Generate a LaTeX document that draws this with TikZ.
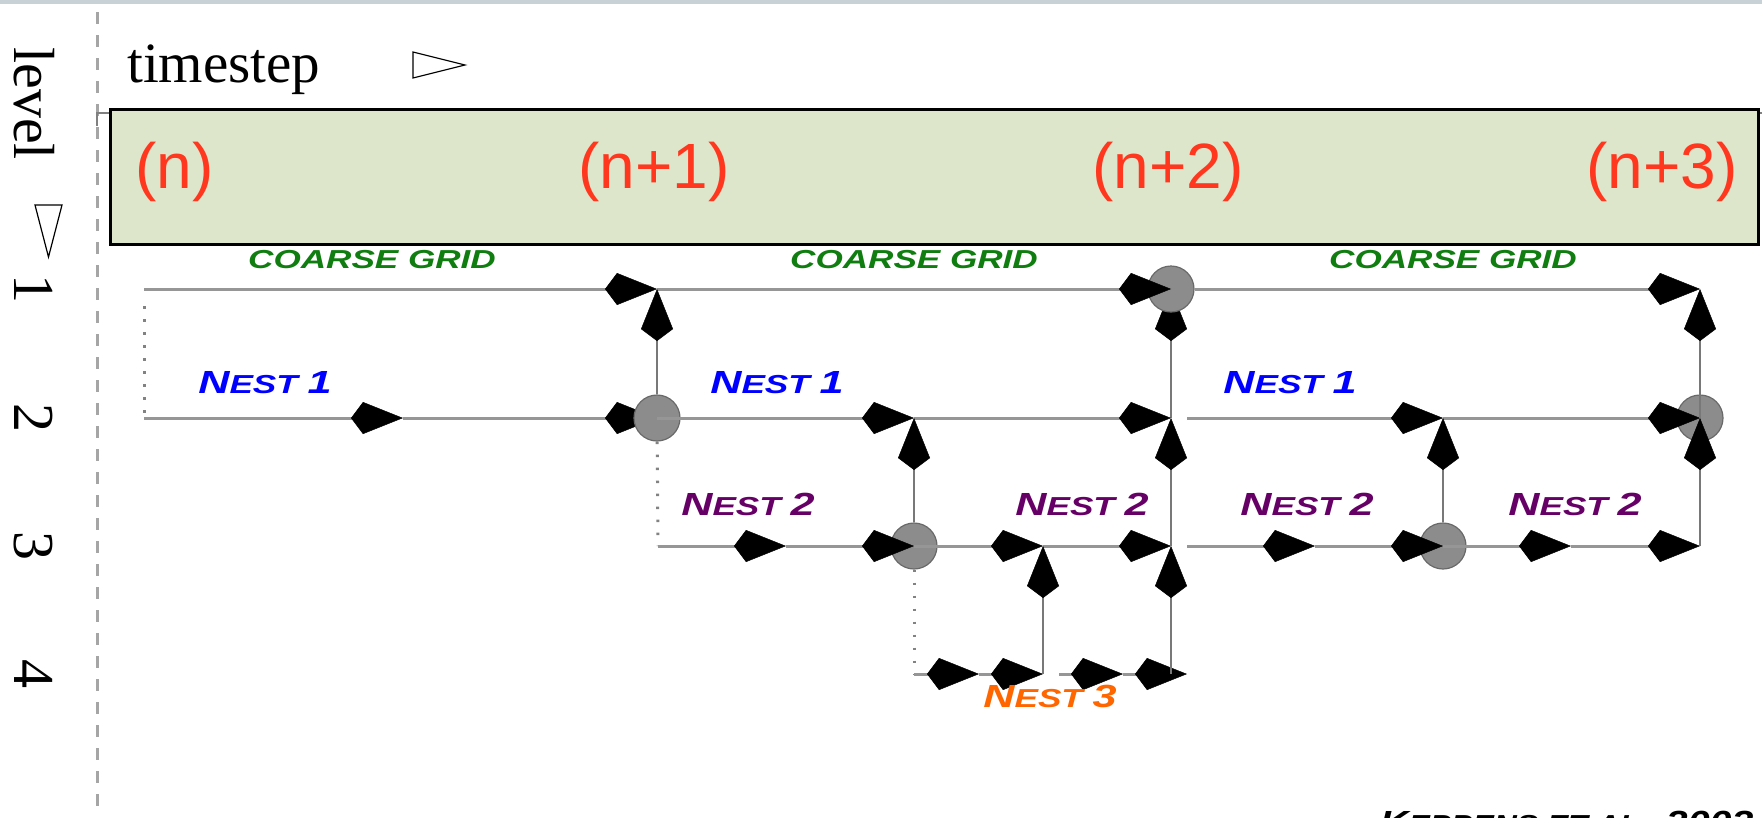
\documentclass[tikz,border=0pt]{standalone}
\usepackage{fontspec}
\usetikzlibrary{arrows.meta}
\newfontfamily\serifT{Liberation Serif}
\newfontfamily\sansA{Liberation Sans}
\newfontfamily\cpg[FakeStretch=1.35]{Liberation Sans}
\newcommand{\BigC}[1]{{\fontsize{32}{32}\selectfont #1}}
\definecolor{barcol}{RGB}{199,209,214}
\definecolor{boxfill}{RGB}{221,229,203}
\definecolor{redlab}{RGB}{255,55,30}
\definecolor{cgreen}{RGB}{16,125,16}
\definecolor{nblue}{RGB}{0,0,255}
\definecolor{npurple}{RGB}{102,0,102}
\definecolor{norange}{RGB}{255,102,0}
\definecolor{hline}{RGB}{150,150,150}
\definecolor{vline}{RGB}{120,120,120}
\definecolor{dotcol}{RGB}{130,130,130}
\definecolor{circfill}{RGB}{140,140,140}
\definecolor{circline}{RGB}{105,105,105}
\definecolor{dashcol}{RGB}{165,165,165}
\begin{document}
\begin{tikzpicture}[x=1pt,y=-1pt,
  hl/.style={line width=3pt, draw=hline},
  vl/.style={line width=2pt, draw=vline},
  ar/.style={-{Kite[length=52pt,width=32pt,inset=12pt,color=black,line width=0.5pt]}},
  dotl/.style={line width=3pt, draw=dotcol, dash pattern=on 2.5pt off 10.5pt},
  circ/.style={circle, minimum size=46pt, inner sep=0pt, fill=circfill, draw=circline, line width=1.2pt},
  lab/.style={inner sep=0pt, anchor=base, font=\cpg\bfseries\itshape\fontsize{26}{26}\selectfont},
  redl/.style={inner sep=0pt, anchor=base west, text=redlab, font=\sansA\fontsize{64}{64}\selectfont},
  axl/.style={inner sep=0pt, rotate=-90, anchor=base, font=\serifT\fontsize{58}{58}\selectfont},
  tri/.style={line width=1.2pt, draw=black, fill=white}
]
\useasboundingbox (0,0) rectangle (1762,817);
\clip (0,0) rectangle (1762,817);
% top bar and axis
\fill[barcol] (0,0) rectangle (1762,3.5);
\draw[line width=3pt, dashcol, dash pattern=on 12pt off 11pt] (97,12) -- (97,817);
\draw[line width=1.5pt, gray] (97,126) -- (97,113) -- (1762,113);
% header box
\node[draw=black, line width=3pt, fill=boxfill, anchor=north west, inner sep=0pt,
      minimum width=1648pt, minimum height=135pt] (box) at (109,108) {};
\node[redl] (tn)  at (135,188) {(n)};
\node[redl] (tn1) at (578,188) {(n+1)};
\node[redl] (tn2) at (1092,188) {(n+2)};
\node[redl] (tn3) at (1586,188) {(n+3)};
% axis labels
\node[inner sep=0pt, anchor=base west, font=\serifT\fontsize{57}{57}\selectfont] (ts) at (127,82) {timestep};
\draw[tri] (413,52) -- (413,78) -- (465,65) -- cycle;
\node[axl] (lv) at (14,103.5) {level};
\draw[tri] (35,205) -- (62,205) -- (48.5,257) -- cycle;
\node[axl] (l1) at (14,289) {1};
\node[axl] (l2) at (14,418) {2};
\node[axl] (l3) at (14,546) {3};
\node[axl] (l4) at (14,674) {4};
% grid points
\coordinate (c0) at (144,289); \coordinate (c1) at (657,289);
\coordinate (c2) at (1171,289); \coordinate (c3) at (1700,289);
\coordinate (a0) at (144,418); \coordinate (am) at (403,418);
\coordinate (a1) at (657,418); \coordinate (ab) at (914,418);
\coordinate (a2) at (1171,418); \coordinate (a2s) at (1187,418);
\coordinate (ad) at (1443,418); \coordinate (a3) at (1700,418);
\coordinate (b0) at (658,546); \coordinate (bm) at (786,546);
\coordinate (b1) at (914,546); \coordinate (bc) at (1043,546);
\coordinate (b2) at (1171,546); \coordinate (b2s) at (1187,546);
\coordinate (be) at (1315,546); \coordinate (bf) at (1443,546);
\coordinate (bg) at (1571,546); \coordinate (b3) at (1700,546);
\coordinate (d0) at (914,674); \coordinate (dm) at (979,674);
\coordinate (d1) at (1043,674); \coordinate (d1s) at (1059,674);
\coordinate (dn) at (1123,674); \coordinate (d2) at (1187,674);
\coordinate (v2) at (1171,674);
\coordinate (s0) at (144,306);
% connectors drawn below the circles
\draw[hl,ar] (am) -- (a1);
\draw[vl,ar] (a2) -- (c2);
% circles
\node[circ] (C1) at (a1) {};
\node[circ] (C2) at (b1) {};
\node[circ] (C3) at (c2) {};
\node[circ] (C4) at (bf) {};
\node[circ] (C5) at (a3) {};
% dotted refinement links
\draw[dotl] (s0) -- (a0);
\draw[dotl] (C1) -- (b0);
\draw[dotl] (C2) -- (d0);
% coarse grid
\draw[hl,ar] (c0) -- (c1);
\draw[hl,ar] (c1) -- (C3.center);
\draw[hl,ar] (C3) -- (c3);
% nest 1
\draw[hl,ar] (a0) -- (am);
\draw[hl,ar] (C1.center) -- (ab);
\draw[hl,ar] (ab) -- (a2);
\draw[hl,ar] (a2s) -- (ad);
\draw[hl,ar] (ad) -- (C5.center);
% nest 2
\draw[hl,ar] (b0) -- (bm);
\draw[hl,ar] (bm) -- (C2.center);
\draw[hl,ar] (C2.center) -- (bc);
\draw[hl,ar] (bc) -- (b2);
\draw[hl,ar] (b2s) -- (be);
\draw[hl,ar] (be) -- (C4.center);
\draw[hl,ar] (C4.center) -- (bg);
\draw[hl,ar] (bg) -- (b3);
% nest 3
\draw[hl,ar] (d0) -- (dm);
\draw[hl,ar] (dm) -- (d1);
\draw[hl,ar] (d1s) -- (dn);
\draw[hl,ar] (dn) -- (d2);
% verticals
\draw[vl,ar] (C1) -- (c1);
\draw[vl,ar] (C2) -- (ab);
\draw[vl,ar] (d1) -- (bc);
\draw[vl,ar] (v2) -- (b2);
\draw[vl,ar] (b2) -- (a2);
\draw[vl,ar] (C4) -- (ad);
\draw[vl,ar] (b3) -- (C5.center);
\draw[vl,ar] (C5.center) -- (c3);
% labels
\node[lab, text=cgreen] (g1) at (372,268) {COARSE GRID};
\node[lab, text=cgreen] (g2) at (914,268) {COARSE GRID};
\node[lab, text=cgreen] (g3) at (1453,268) {COARSE GRID};
\node[lab, text=nblue] (n11) at (265,393) {\BigC{N}EST \BigC{1}};
\node[lab, text=nblue] (n12) at (777,393) {\BigC{N}EST \BigC{1}};
\node[lab, text=nblue] (n13) at (1290,393) {\BigC{N}EST \BigC{1}};
\node[lab, text=npurple] (n21) at (748,515) {\BigC{N}EST \BigC{2}};
\node[lab, text=npurple] (n22) at (1082,515) {\BigC{N}EST \BigC{2}};
\node[lab, text=npurple] (n23) at (1307,515) {\BigC{N}EST \BigC{2}};
\node[lab, text=npurple] (n24) at (1575,515) {\BigC{N}EST \BigC{2}};
\node[lab, text=norange] (n31) at (1050,707) {\BigC{N}EST \BigC{3}};
\node[lab, text=black, anchor=base west, xscale=0.91] (cit) at (1380,833) {\BigC{K}EPPENS ET AL., \BigC{2003}};
\end{tikzpicture}
\end{document}
